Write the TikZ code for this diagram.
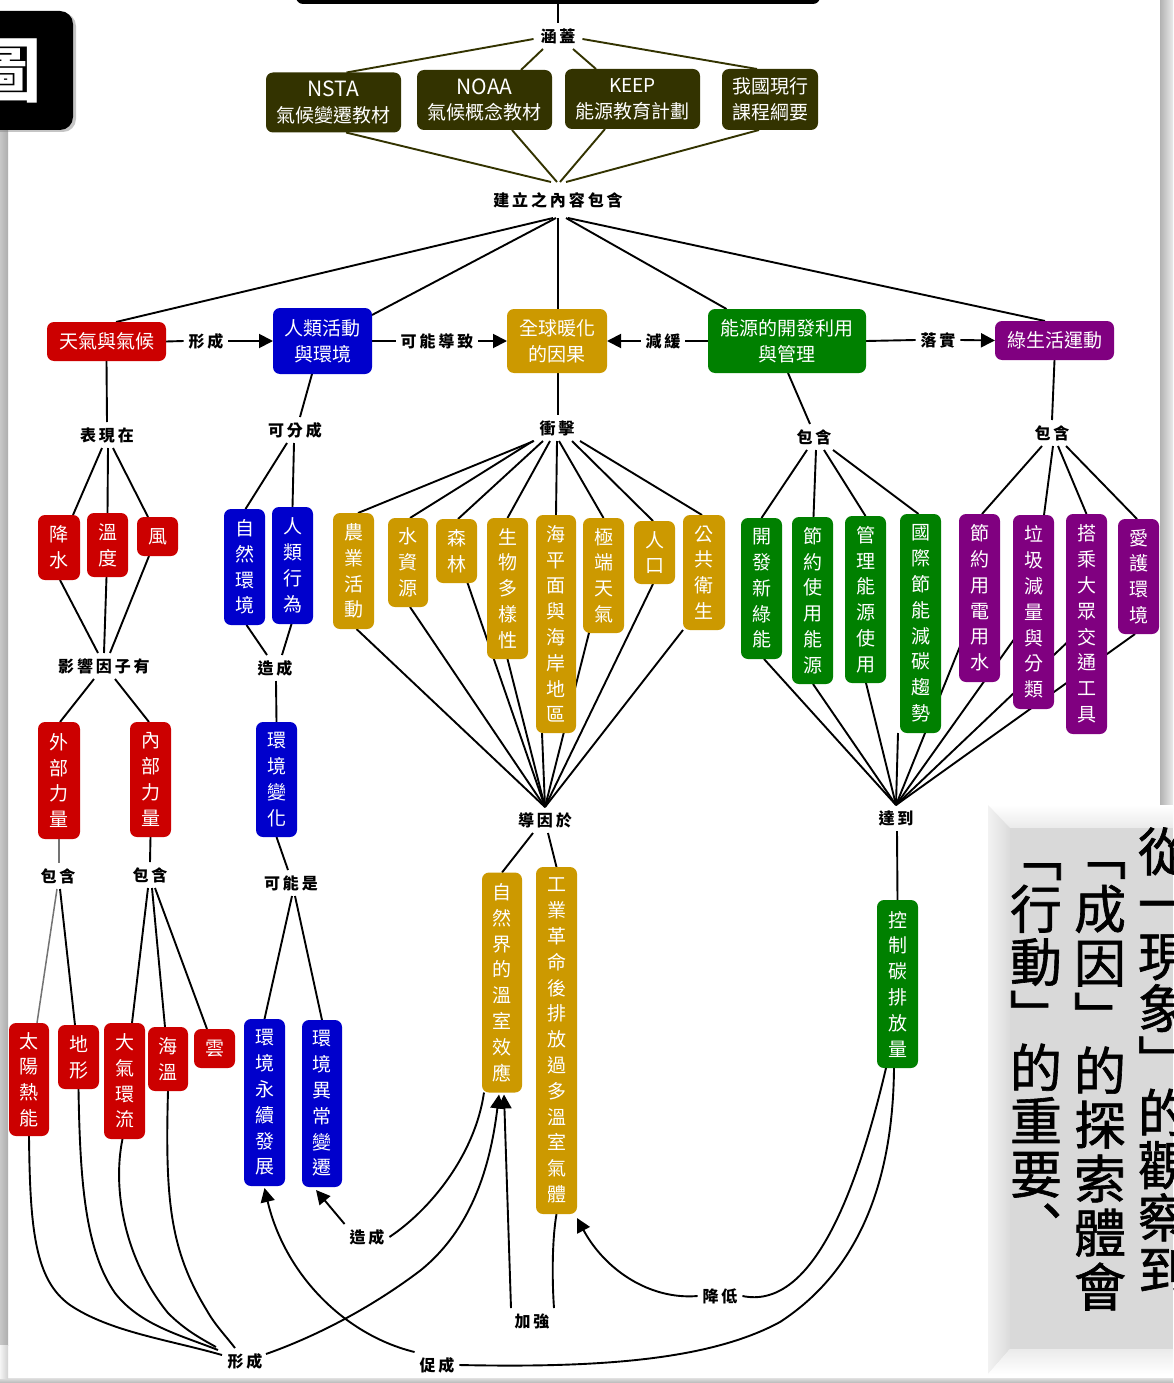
\documentclass[tikz,border=0pt]{standalone}
\usepackage{fontspec}
\setmainfont{Noto Sans CJK TC}
\newfontfamily\labfont[LetterSpace=18]{Noto Sans CJK TC}
\newfontfamily\panfont[FakeBold=1.2]{Noto Sans CJK TC}
\usetikzlibrary{arrows.meta,shadows}
\definecolor{cred}{HTML}{CC0000}
\definecolor{cblue}{HTML}{0000CC}
\definecolor{cgold}{HTML}{CC9900}
\definecolor{cgreen}{HTML}{008000}
\definecolor{cpurple}{HTML}{800080}
\definecolor{colive}{HTML}{333300}
\pgfdeclarelayer{bg}
\pgfdeclarelayer{lines}
\pgfsetlayers{bg,lines,main}
\tikzset{
  bxs/.style={rounded corners=7pt,inner sep=0pt,outer sep=0pt,text=white,align=center,
    font=\fontsize{19}{25.8}\selectfont},
  lab/.style={inner xsep=5pt,inner ysep=0pt,outer sep=0pt,minimum height=26pt,text=black,
    font=\labfont\bfseries\fontsize{16}{17}\selectfont},
  link/.style={draw=black,line width=1.9pt},
  olink/.style={draw=colive,line width=1.9pt},
  glink/.style={draw=black!55,line width=1.5pt},
  arr/.style={draw=black,line width=1.9pt,-{Triangle[length=14pt,width=14pt]}},
  plab/.style={inner sep=0pt,text=black,align=center},
}
\newcommand\bxn[7]{\node[bxs,fill=#2,minimum width={(#5-#3)*1pt},minimum height={(#6-#4)*1pt}] (#1) at ({(#3+#5)/2},{(#4+#6)/2}) {#7};}
\newcommand\lbn[4]{\node[lab] (#1) at (#2,#3) {#4};}
\newcommand\lk[5][link]{\draw[#1] ([xshift=#3pt]#2.south) -- ([xshift=#5pt]#4.north);}
\newcommand\latinbig[1]{{\fontsize{21}{25.8}\selectfont #1}}
\begin{document}
\begin{tikzpicture}[x=1pt,y=-1pt]
\useasboundingbox (0,0) rectangle (1173,1383);
\begin{pgfonlayer}{bg}
\fill[white] (0,0) rectangle (1173,1383);
% page edges
\shade[left color=black!22,right color=black!32] (0,130) rectangle (8,1345);
\shade[left color=black!30,right color=black!8] (1160,0) rectangle (1173,805);
\shade[top color=black!12,bottom color=black!28] (0,1378) rectangle (1173,1383);
\shade[left color=black!4,right color=black!18] (0,1345) rectangle (8,1378);
% grey panel
\shade[top color=white,bottom color=black!8] (988,805) -- (1173,805) -- (1173,828) -- (1010,828) -- cycle;
\shade[left color=black!5,right color=black!14] (988,805) -- (1010,828) -- (1010,1349) -- (988,1374) -- cycle;
\shade[top color=black!8,bottom color=white] (1010,1349) -- (1173,1349) -- (1173,1374) -- (988,1374) -- cycle;
\fill[black!15] (1010,828) rectangle (1173,1349);
\end{pgfonlayer}
\node[plab,font=\panfont\fontsize{52}{52.3}\selectfont] (pa) at (1164,1060) {從\\一\\現\\象\\﹂\\的\\觀\\察\\到};
\node[plab,font=\panfont\fontsize{52}{54}\selectfont] (pb) at (1100,1086.5) {﹁\\成\\因\\﹂\\的\\探\\索\\體\\會};
\node[plab,font=\panfont\fontsize{52}{53}\selectfont] (pc) at (1036,1055) {﹁\\行\\動\\﹂\\的\\重\\要\\︑};
% black header pieces
\node[fill=black,rounded corners=7pt,minimum width=524pt,minimum height=40pt,inner sep=0pt,outer sep=0pt] (top) at (558,-16) {};
\node[fill=black,rounded corners=13pt,minimum width=113pt,minimum height=119pt,inner sep=0pt,outer sep=0pt,drop shadow={shadow xshift=3pt,shadow yshift=-2pt,opacity=.45}] (side) at (16.5,70.5) {};
\node[text=white,inner sep=0pt,font=\bfseries\fontsize{70}{70}\selectfont] (tu) at (7,71) {圖};
% olive row
\bxn{nsta}{colive}{266}{72.5}{401}{132.5}{\latinbig{NSTA}\\氣候變遷教材}
\bxn{noaa}{colive}{417}{70}{552}{130}{\latinbig{NOAA}\\氣候概念教材}
\bxn{keep}{colive}{565}{69}{700}{129}{KEEP\\能源教育計劃}
\bxn{guo}{colive}{722}{69}{818}{130}{我國現行\\課程綱要}
% main row
\bxn{tq}{cred}{47}{322}{166}{361}{天氣與氣候}
\bxn{rl}{cblue}{273}{308}{372}{374}{人類活動\\與環境}
\bxn{qq}{cgold}{507}{309}{607}{373}{全球暖化\\的因果}
\bxn{ny}{cgreen}{708}{309}{866}{373}{能源的開發利用\\與管理}
\bxn{ls}{cpurple}{995}{321}{1114}{360}{綠生活運動}
% red
\bxn{js}{cred}{38}{515}{80}{580}{降\\水}
\bxn{wd}{cred}{87}{513}{128}{577}{溫\\度}
\bxn{fg}{cred}{137}{517}{178}{556}{風}
\bxn{wb}{cred}{38}{722}{80}{839}{外\\部\\力\\量}
\bxn{nb}{cred}{130}{722}{171}{837}{內\\部\\力\\量}
\bxn{ty}{cred}{9}{1023}{49}{1136}{太\\陽\\熱\\能}
\bxn{dx}{cred}{58}{1025}{99}{1089}{地\\形}
\bxn{dq}{cred}{104}{1023}{145}{1139}{大\\氣\\環\\流}
\bxn{hw}{cred}{148}{1027}{188}{1091}{海\\溫}
\bxn{yn}{cred}{194}{1029}{235}{1068}{雲}
% blue
\bxn{zr}{cblue}{224}{509}{265}{625}{自\\然\\環\\境}
\bxn{rx}{cblue}{272}{507}{313}{624}{人\\類\\行\\為}
\bxn{hb}{cblue}{256}{722}{297}{837}{環\\境\\變\\化}
\bxn{yx}{cblue}{244}{1019}{285}{1186}{環\\境\\永\\續\\發\\展}
\bxn{yc}{cblue}{302}{1020}{342}{1187}{環\\境\\異\\常\\變\\遷}
% gold
\bxn{ny1}{cgold}{333}{513}{374}{629}{農\\業\\活\\動}
\bxn{sz}{cgold}{388}{518}{428}{607}{水\\資\\源}
\bxn{sl}{cgold}{436}{519}{477}{583}{森\\林}
\bxn{sw}{cgold}{487}{518}{528}{659}{生\\物\\多\\樣\\性}
\bxn{hp}{cgold}{536}{515}{576}{733}{海\\平\\面\\與\\海\\岸\\地\\區}
\bxn{jd}{cgold}{583}{518}{624}{633}{極\\端\\天\\氣}
\bxn{rk}{cgold}{634}{521}{675}{584}{人\\口}
\bxn{gg}{cgold}{683}{515}{725}{630}{公\\共\\衛\\生}
\bxn{zw}{cgold}{482}{872.5}{522}{1092.5}{自\\然\\界\\的\\溫\\室\\效\\應}
\bxn{gy}{cgold}{536}{867}{577}{1214}{工\\業\\革\\命\\後\\排\\放\\過\\多\\溫\\室\\氣\\體}
% green
\bxn{kf}{cgreen}{741}{518}{782}{659}{開\\發\\新\\綠\\能}
\bxn{jy}{cgreen}{792}{517}{833}{684}{節\\約\\使\\用\\能\\源}
\bxn{gl}{cgreen}{845}{516}{886}{683}{管\\理\\能\\源\\使\\用}
\bxn{gj}{cgreen}{900}{514}{941}{733}{國\\際\\節\\能\\減\\碳\\趨\\勢}
\bxn{kz}{cgreen}{877}{900}{918}{1068}{控\\制\\碳\\排\\放\\量}
% purple
\bxn{jd2}{cpurple}{959}{514}{1000}{682}{節\\約\\用\\電\\用\\水}
\bxn{lj}{cpurple}{1013}{515}{1054}{709}{垃\\圾\\減\\量\\與\\分\\類}
\bxn{dc}{cpurple}{1066}{514}{1107}{734}{搭\\乘\\大\\眾\\交\\通\\工\\具}
\bxn{ah}{cpurple}{1118}{519}{1159}{634}{愛\\護\\環\\境}
% linking labels
\lbn{hg}{558}{36}{涵蓋}
\node[lab,minimum height=36pt] (jl) at (558,200) {建立之內容包含};
\lbn{xc}{206}{341}{形成}
\lbn{kn}{437}{341}{可能導致}
\lbn{jh}{663}{341}{減緩}
\lbn{ls2}{938}{340}{落實}
\lbn{bx}{107}{435}{表現在}
\lbn{kf2}{295}{430}{可分成}
\lbn{cj}{557}{428}{衝擊}
\lbn{bh}{814}{437}{包含}
\lbn{bh2}{1052}{433}{包含}
\lbn{yy}{104}{666}{影響因子有}
\lbn{zc}{275}{668}{造成}
\lbn{bh3}{58}{876}{包含}
\lbn{bh4}{150}{875}{包含}
\lbn{ks}{291}{883}{可能是}
\lbn{dy}{545}{820}{導因於}
\lbn{dd}{896}{818}{達到}
\lbn{zc2}{367}{1237}{造成}
\lbn{xc2}{245}{1361}{形成}
\lbn{jq}{532}{1321}{加強}
\lbn{jd3}{720}{1296}{降低}
\lbn{cc}{437}{1365}{促成}
\begin{pgfonlayer}{lines}
% top
\lk{top}{0}{hg}{0}
\draw[olink] ([shift={(-2,3)}]hg.west) -- ([xshift=13pt]nsta.north);
\lk[olink]{hg}{-15}{noaa}{36.5}
\lk[olink]{hg}{15}{keep}{-36.5}
\draw[olink] ([shift={(2,3)}]hg.east) -- ([xshift=-13pt]guo.north);
\lk[olink]{nsta}{12.5}{jl}{-7}
\lk[olink]{noaa}{27.5}{jl}{-1}
\lk[olink]{keep}{-27.5}{jl}{2}
\lk[olink]{guo}{-11}{jl}{8}
\lk{jl}{-5}{tq}{9.5}
\draw[link] ([xshift=-2pt]jl.south) -- ([shift={(0,-26)}]rl.east);
\lk{jl}{0}{qq}{1}
\lk{jl}{8}{ny}{-60.5}
\lk{jl}{10}{ls}{-9.5}
% horizontal
\draw[link] (tq.east) -- (xc.west);
\draw[arr] (xc.east) -- (rl.west);
\draw[link] (rl.east) -- (kn.west);
\draw[arr] (kn.east) -- (qq.west);
\draw[link] (ny.west) -- (jh.east);
\draw[arr] (jh.west) -- (qq.east);
\draw[link] (ny.east) -- (ls2.west);
\draw[arr] (ls2.east) -- (ls.west);
% weather column
\lk{tq}{0}{bx}{0}
\lk{bx}{-5}{js}{14}
\lk{bx}{1}{wd}{0}
\lk{bx}{6}{fg}{-9.5}
\lk{js}{1}{yy}{-6}
\lk{wd}{-1}{yy}{0}
\lk{fg}{-8.5}{yy}{6}
\lk{yy}{-10}{wb}{1}
\lk{yy}{11}{nb}{-1.5}
\lk[glink]{wb}{0}{bh3}{1}
\lk{nb}{0}{bh4}{0}
\lk[glink]{bh3}{-1}{ty}{8}
\lk{bh3}{2}{dx}{-3.5}
\lk{bh4}{-2}{dq}{7.5}
\lk{bh4}{2}{hw}{-3}
\lk{bh4}{5}{yn}{-7.5}
% human column
\lk{rl}{-10.5}{kf2}{5}
\lk{kf2}{-8}{zr}{1}
\lk{kf2}{-1}{rx}{0}
\lk{zr}{2}{zc}{-8}
\lk{rx}{-1}{zc}{7}
\lk{zc}{1}{hb}{0}
\lk{hb}{0}{ks}{-3}
\lk{ks}{1}{yx}{0}
\lk{ks}{4}{yc}{0}
% warming column
\lk{qq}{1}{cj}{1}
\lk{cj}{-23}{ny1}{4.5}
\lk{cj}{-24}{sz}{2}
\lk{cj}{-14}{sl}{1.5}
\lk{cj}{-7}{sw}{0}
\lk{cj}{0}{hp}{0}
\lk{cj}{2}{jd}{0}
\lk{cj}{15}{rk}{-1.5}
\lk{cj}{23}{gg}{-2}
\lk{ny1}{3}{dy}{0}
\lk{sz}{2}{dy}{0}
\draw[link] (sl.center) -- (dy.north);
\lk{sw}{0}{dy}{0}
\lk{hp}{-14}{dy}{0}
\draw[link] (jd.center) -- (dy.north);
\lk{rk}{-1.5}{dy}{0}
\lk{gg}{-21}{dy}{0}
\lk{dy}{-12}{zw}{0}
\lk{dy}{3}{gy}{0}
% energy column
\lk{ny}{1}{bh}{-4}
\lk{bh}{-7}{kf}{0}
\lk{bh}{2}{jy}{1}
\lk{bh}{10}{gl}{0}
\lk{bh}{19}{gj}{-2}
\lk{ls}{0}{bh2}{0}
\lk{bh2}{-10}{jd2}{2.5}
\lk{bh2}{1}{lj}{10.5}
\lk{bh2}{6}{dc}{0}
\lk{bh2}{14}{ah}{-1.5}
\lk{kf}{2.5}{dd}{0}
\lk{jy}{0.5}{dd}{0}
\lk{gl}{0.5}{dd}{0}
\lk{gj}{-22.5}{dd}{0}
\draw[link] (jd2.center) -- (dd.north);
\draw[link] (lj.center) -- (dd.north);
\draw[link] (dc.center) -- (dd.north);
\lk{ah}{-3.5}{dd}{0}
\lk{dd}{1}{kz}{0}
% lower curves
\draw[link] ([xshift=-11.5pt]kz.south) .. controls (855,1200) and (810,1310) .. (jd3.east);
\draw[arr] (jd3.west) .. controls (650,1300) and (605,1270) .. ([yshift=-4pt]gy.south east);
\draw[link] ([xshift=-3.5pt]kz.south) .. controls (893,1180) and (860,1270) .. (780,1322) .. controls (710,1360) and (600,1368) .. (cc.east);
\draw[arr] (cc.north west) .. controls (345,1335) and (285,1275) .. ([yshift=-2pt]yx.south);
\draw[arr] (zc2.north west) -- ([shift={(-6,3)}]yc.south);
\draw[link] (zc2.east) .. controls (430,1210) and (475,1155) .. ([xshift=-18pt]zw.south);
\draw[link] (ty.south) .. controls (30,1230) and (35,1280) .. (70,1305) .. controls (110,1332) and (170,1340) .. ([shift={(-23,-6)}]xc2.center);
\draw[link] (dx.south) .. controls (80,1180) and (85,1250) .. (115,1293) .. controls (140,1325) and (180,1335) .. ([shift={(-27,-11)}]xc2.center);
\draw[link] ([xshift=-2pt]dq.south) .. controls (112,1190) and (125,1260) .. (168,1313) .. controls (185,1330) and (200,1338) .. ([shift={(-29,-14)}]xc2.center);
\draw[link] (hw.south) .. controls (165,1200) and (170,1250) .. (206.6,1310) .. controls (215,1325) and (225,1335) .. ([shift={(-10,-13)}]xc2.center);
\draw[arr] ([shift={(21,-7)}]xc2.center) .. controls (320,1335) and (375,1305) .. (421,1270) .. controls (470,1230) and (490,1170) .. ([shift={(-3,2)}]zw.south);
\draw[arr] ([xshift=-21pt]jq.north) -- ([shift={(2,2)}]zw.south);
\draw[link] (gy.south) .. controls (552,1240) and (552,1280) .. ([xshift=22pt]jq.north);
\end{pgfonlayer}
\end{tikzpicture}
\end{document}
